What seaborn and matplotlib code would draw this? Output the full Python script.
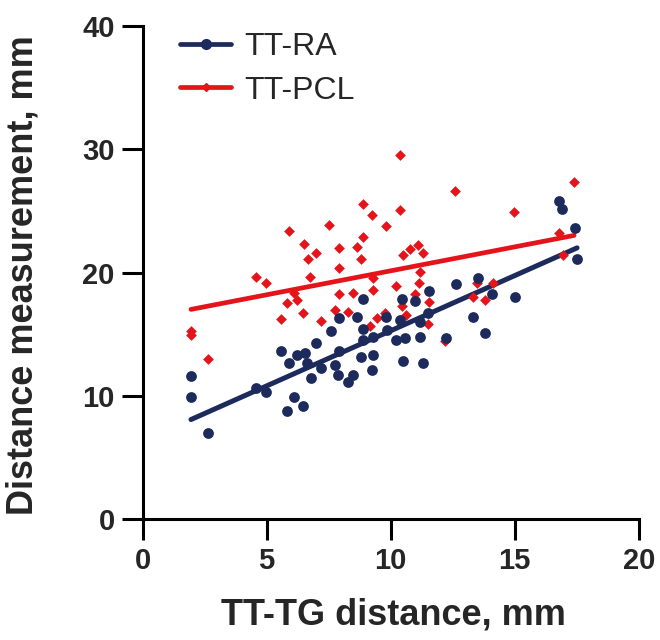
import matplotlib
matplotlib.use("Agg")
import matplotlib.pyplot as plt
from matplotlib.lines import Line2D
import seaborn as sns
import numpy as np
import pandas as pd

# TT-RA (navy circles)
ra_x = [1.95, 1.95, 2.63, 4.57, 4.97, 5.58, 5.90, 5.82, 6.10, 6.22, 6.46, 6.54, 6.63, 6.79,
        6.99, 7.19, 7.59, 7.75, 7.88, 7.91, 7.91, 8.28, 8.48, 8.64, 8.80, 8.88, 8.88, 8.88,
        9.24, 9.29, 9.29, 9.81, 9.85, 10.21, 10.38, 10.45, 10.50, 10.58, 10.98, 11.18, 11.18,
        11.30, 11.50, 11.54, 12.23, 12.64, 13.32, 13.52, 13.80, 14.10, 15.00, 16.79, 16.91,
        17.43, 17.51]
ra_y = [11.59, 9.88, 6.96, 10.61, 10.28, 13.62, 12.64, 8.74, 9.88, 13.29, 9.15, 13.46, 12.64, 11.42,
        14.27, 12.24, 15.24, 12.48, 11.67, 13.62, 16.30, 11.10, 11.67, 16.38, 13.13, 17.85, 15.41, 14.51,
        12.07, 14.76, 13.29, 16.38, 15.33, 14.51, 16.14, 17.85, 12.80, 14.67, 17.68, 15.98, 14.76,
        12.64, 16.71, 18.50, 14.67, 19.06, 16.38, 19.55, 15.08, 18.30, 18.00, 25.81, 25.16,
        23.62, 21.10]

# TT-PCL (red diamonds)
pcl_x = [5.90, 7.53, 6.50, 6.99, 6.67, 4.57, 4.97, 6.75, 6.10, 5.82, 6.22, 6.46, 5.58, 7.19,
         1.95, 1.95, 2.63, 10.38, 12.60, 8.88, 10.38, 9.24, 9.81, 8.88, 7.91, 8.64, 8.80,
         10.78, 11.10, 11.30, 10.50, 7.91, 11.18, 9.29, 9.29, 10.21, 11.14, 7.91, 8.48, 10.98,
         11.54, 10.45, 7.75, 8.28, 10.62, 9.77, 9.44, 9.16, 11.50, 12.19, 13.32, 13.48,
         17.39, 14.97, 16.79, 16.95, 14.12, 13.80]
pcl_y = [23.37, 23.86, 22.32, 21.59, 21.10, 19.63, 19.15, 19.63, 18.33, 17.52, 17.76, 16.71, 16.22, 16.06,
         14.90, 15.25, 12.97, 29.55, 26.63, 25.57, 25.08, 24.67, 23.78, 22.89, 21.99, 22.07, 21.10,
         21.91, 22.24, 21.59, 21.42, 20.37, 20.04, 19.55, 18.58, 18.90, 19.15, 18.25, 18.33, 18.25,
         17.60, 17.28, 16.95, 16.79, 16.54, 16.71, 16.30, 15.65, 15.81, 14.43, 18.01, 19.15,
         27.36, 24.92, 23.21, 21.42, 19.15, 17.80]

series_names = ["TT-RA", "TT-PCL"]
x_ticks = [0, 5, 10, 15, 20]
y_ticks = [0, 10, 20, 30, 40]

NAVY = "#1C2A5C"
RED = "#E5141B"

sns.set_style("ticks")
plt.rcParams['font.family'] = ['Liberation Sans', 'DejaVu Sans']

fig = plt.figure(figsize=(6.6, 6.4), dpi=100)
ax = fig.add_axes([0.216, 0.189, 0.752, 0.770])

ra = pd.DataFrame({"x": ra_x, "y": ra_y})
pcl = pd.DataFrame({"x": pcl_x, "y": pcl_y})

sns.regplot(data=pcl, x="x", y="y", ci=None, ax=ax, marker="D",
            scatter_kws=dict(s=30, color=RED, linewidths=0, alpha=1, zorder=3),
            line_kws=dict(color=RED, lw=3.4, zorder=2))
sns.regplot(data=ra, x="x", y="y", ci=None, ax=ax, marker="o",
            scatter_kws=dict(s=60, color=NAVY, linewidths=0, alpha=1, zorder=3),
            line_kws=dict(color=NAVY, lw=3.6, zorder=2))

ax.set_xlim(0, 20)
ax.set_ylim(0, 40)
ax.set_xticks(x_ticks)
ax.set_yticks(y_ticks)
ax.set_xticklabels([str(t) for t in x_ticks], fontsize=21, fontweight="bold")
ax.set_yticklabels([str(t) for t in y_ticks], fontsize=21, fontweight="bold")
ax.tick_params(axis="both", direction="out", length=15, width=2.2, color="black", pad=5)
for side in ["top", "right"]:
    ax.spines[side].set_visible(False)
for side in ["left", "bottom"]:
    ax.spines[side].set_linewidth(2.2)
    ax.spines[side].set_color("black")
    ax.spines[side].set_capstyle("projecting")

ax.set_xlabel("TT-TG distance, mm", fontsize=26, fontweight="bold")
ax.set_ylabel("Distance measurement, mm", fontsize=26, fontweight="bold")
ax.xaxis.set_label_coords(0.505, -0.160)
ax.yaxis.set_label_coords(-0.205, 0.495)

handles = [
    Line2D([0], [0], color=NAVY, lw=3.4, marker="o", markersize=7),
    Line2D([0], [0], color=RED, lw=3.4, marker="D", markersize=4.5),
]
ax.legend(handles, series_names, loc="upper left", bbox_to_anchor=(0.05, 1.014),
          frameon=False, fontsize=23, handlelength=1.6, handletextpad=0.4,
          labelspacing=0.42, borderaxespad=0)

fig.savefig("out.png", dpi=100)
